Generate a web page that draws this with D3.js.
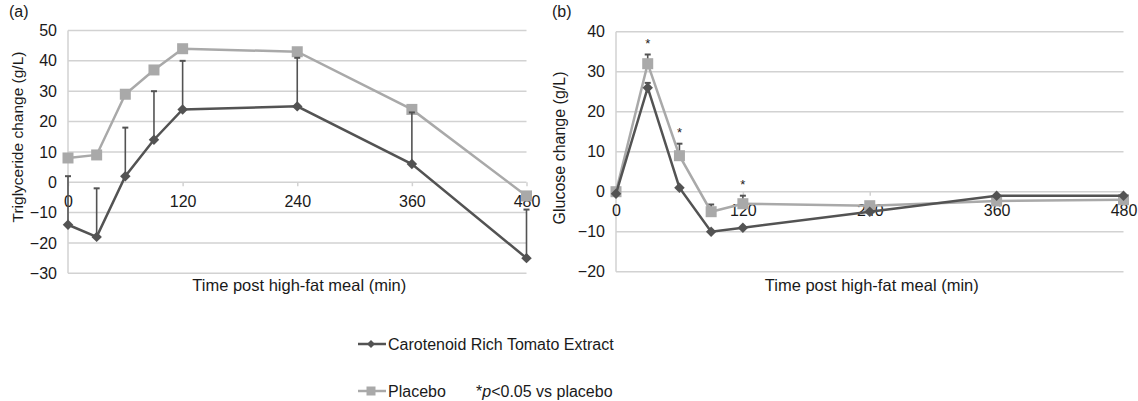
<!DOCTYPE html>
<html>
<head>
<meta charset="utf-8">
<script src="https://cdn.jsdelivr.net/npm/d3@7"></script>
<style>
  body { margin: 0; background: #fff; }
  text { font-family: "Liberation Sans", Arial, sans-serif; fill: #1a1a1a; }
</style>
</head>
<body>
<svg id="chart" width="1138" height="401"></svg>
<script>
// time points (min)
var times = [0, 30, 60, 90, 120, 240, 360, 480];
var xTicks = [0, 120, 240, 360, 480];

// panel (a) triglyceride change (g/L)
var tomatoTG = [-14, -18, 2, 14, 24, 25, 6, -25];
var tomatoTGErr = [16, 16, 16, 16, 16, 16, 17, 16];
var placeboTG = [8, 9, 29, 37, 44, 43, 24, -4.5];
var yTicksTG = [-30, -20, -10, 0, 10, 20, 30, 40, 50];

// panel (b) glucose change (g/L)
var tomatoGlu = [-0.5, 26, 1, -10, -9, -5, -1, -1];
var tomatoGluErr = [0, 1.2, 0, 0, 0, 0, 0, 0];
var placeboGlu = [0, 32, 9, -5, -3, -3.5, -2.3, -2];
var placeboGluErr = [0, 2.3, 3, 1.8, 2, 0, 0, 0];
var gluStars = [30, 60, 120];
var yTicksGlu = [-20, -10, 0, 10, 20, 30, 40];

var darkCol = '#535353', lightCol = '#a9a9a9', gridCol = '#d2d2d2';

var svg = d3.select('#chart');

function drawPanel(opt) {
	var g = svg.append('g');
	var x = d3.scaleLinear().domain([0, 480]).range(opt.xRange);
	var y = d3.scaleLinear().domain(d3.extent(opt.yTicks)).range(opt.yRange);

	// gridlines
	g.selectAll('.grid').data(opt.yTicks).enter().append('line')
		.attr('x1', opt.xRange[0]).attr('x2', opt.xRange[1])
		.attr('y1', function(d) { return y(d); }).attr('y2', function(d) { return y(d); })
		.attr('stroke', gridCol).attr('stroke-width', 1.5);
	g.append('line')
		.attr('x1', opt.xRange[0]).attr('x2', opt.xRange[0])
		.attr('y1', opt.yRange[0]).attr('y2', opt.yRange[1])
		.attr('stroke', gridCol).attr('stroke-width', 1.5);

	// y axis labels
	var yAxis = d3.axisLeft(y).tickValues(opt.yTicks).tickSize(0).tickPadding(11);
	var ya = g.append('g').attr('transform', 'translate(' + opt.xRange[0] + ',0)').call(yAxis);
	ya.select('.domain').remove();
	ya.selectAll('text').style('font-size', '16px').attr('fill', '#1a1a1a');

	// x axis on the zero line
	var xAxis = d3.axisBottom(x).tickValues(xTicks).tickSize(4).tickPadding(9);
	var xa = g.append('g').attr('transform', 'translate(0,' + y(0) + ')').call(xAxis);
	xa.select('.domain').remove();
	xa.selectAll('line').attr('stroke', gridCol).attr('stroke-width', 1.5);
	xa.selectAll('text').style('font-size', '16px').attr('fill', '#1a1a1a');

	var line = d3.line()
		.x(function(d, i) { return x(times[i]); })
		.y(function(d) { return y(d); });

	function errBars(vals, errs, col) {
		var d = vals.map(function(v, i) { return { t: times[i], v: v, e: errs[i] }; })
			.filter(function(p) { return p.e > 0; });
		g.selectAll(null).data(d).enter().append('line')
			.attr('x1', function(p) { return x(p.t); }).attr('x2', function(p) { return x(p.t); })
			.attr('y1', function(p) { return y(p.v); }).attr('y2', function(p) { return y(p.v + p.e); })
			.attr('stroke', col).attr('stroke-width', 1.6);
		g.selectAll(null).data(d).enter().append('line')
			.attr('x1', function(p) { return x(p.t) - 3; }).attr('x2', function(p) { return x(p.t) + 3; })
			.attr('y1', function(p) { return y(p.v + p.e); }).attr('y2', function(p) { return y(p.v + p.e); })
			.attr('stroke', col).attr('stroke-width', 2);
	}

	// placebo series
	if (opt.placeboErr) errBars(opt.placebo, opt.placeboErr, darkCol);
	g.append('path').datum(opt.placebo).attr('d', line)
		.attr('fill', 'none').attr('stroke', lightCol).attr('stroke-width', 2.5);
	g.selectAll(null).data(opt.placebo).enter().append('rect')
		.attr('x', function(d, i) { return x(times[i]) - 5.5; })
		.attr('y', function(d) { return y(d) - 5.5; })
		.attr('width', 11).attr('height', 11)
		.attr('fill', lightCol);

	// tomato extract series
	errBars(opt.tomato, opt.tomatoErr, darkCol);
	g.append('path').datum(opt.tomato).attr('d', line)
		.attr('fill', 'none').attr('stroke', darkCol).attr('stroke-width', 2.5);
	g.selectAll(null).data(opt.tomato).enter().append('path')
		.attr('d', d3.symbol(d3.symbolDiamond2, 70))
		.attr('transform', function(d, i) { return 'translate(' + x(times[i]) + ',' + y(d) + ')'; })
		.attr('fill', darkCol);

	// significance stars
	if (opt.stars) {
		g.selectAll(null).data(opt.stars).enter().append('text')
			.attr('x', function(t) { return x(t); })
			.attr('y', function(t) {
				var i = times.indexOf(t);
				return y(opt.placebo[i] + opt.placeboErr[i]) - 7;
			})
			.attr('text-anchor', 'middle').style('font-size', '13px').text('*');
	}

	// titles
	g.append('text')
		.attr('transform', 'translate(' + opt.yTitlePos[0] + ',' + opt.yTitlePos[1] + ') rotate(-90)')
		.attr('text-anchor', 'middle').attr('dy', '0.35em').style('font-size', opt.yTitleSize)
		.text(opt.yTitle);
	g.append('text')
		.attr('x', (opt.xRange[0] + opt.xRange[1]) / 2 + 2).attr('y', 291)
		.attr('text-anchor', 'middle').style('font-size', '16.5px')
		.text('Time post high-fat meal (min)');
	g.append('text').attr('x', opt.labelPos[0]).attr('y', opt.labelPos[1])
		.style('font-size', '16px').text(opt.label);
}

drawPanel({
	label: '(a)', labelPos: [9, 17],
	xRange: [68, 526.5], yRange: [273.3, 30.5], yTicks: yTicksTG,
	tomato: tomatoTG, tomatoErr: tomatoTGErr, placebo: placeboTG,
	yTitle: 'Triglyceride change (g/L)', yTitlePos: [18, 137], yTitleSize: '15.5px'
});

drawPanel({
	label: '(b)', labelPos: [552, 17],
	xRange: [616, 1123.5], yRange: [271.7, 31.7], yTicks: yTicksGlu,
	tomato: tomatoGlu, tomatoErr: tomatoGluErr, placebo: placeboGlu, placeboErr: placeboGluErr,
	stars: gluStars,
	yTitle: 'Glucose change (g/L)', yTitlePos: [559, 148], yTitleSize: '16px'
});

// legend
var legend = svg.append('g');
var legendItems = [
	{ name: 'Carotenoid Rich Tomato Extract', col: darkCol, sym: 'diamond', y: 344 },
	{ name: 'Placebo', col: lightCol, sym: 'square', y: 391 }
];
legendItems.forEach(function(it) {
	legend.append('line').attr('x1', 358).attr('x2', 386).attr('y1', it.y).attr('y2', it.y)
		.attr('stroke', it.col).attr('stroke-width', 2.5);
	if (it.sym === 'diamond') {
		legend.append('path').attr('d', d3.symbol(d3.symbolDiamond2, 40))
			.attr('transform', 'translate(371,' + it.y + ')').attr('fill', it.col);
	} else {
		legend.append('rect').attr('x', 366.5).attr('y', it.y - 4.5).attr('width', 9).attr('height', 9)
			.attr('fill', it.col);
	}
	legend.append('text').attr('x', 388).attr('y', it.y).attr('dy', '0.35em')
		.style('font-size', '16px').text(it.name);
});
var note = legend.append('text').attr('x', 476).attr('y', 391).attr('dy', '0.35em').style('font-size', '16px');
note.append('tspan').text('*');
note.append('tspan').style('font-style', 'italic').text('p');
note.append('tspan').text('<0.05 vs placebo');
</script>
</body>
</html>
